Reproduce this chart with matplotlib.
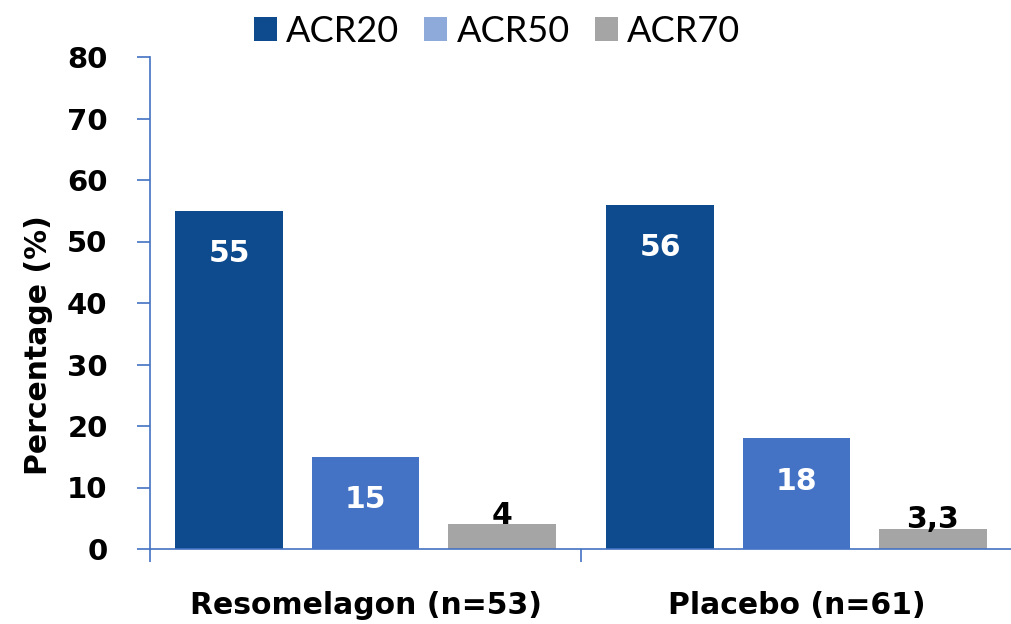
import matplotlib
matplotlib.use("Agg")
import matplotlib.pyplot as plt
from matplotlib.patches import Patch
import numpy as np

categories = ["Resomelagon (n=53)", "Placebo (n=61)"]
series = ["ACR20", "ACR50", "ACR70"]
acr20 = [55, 56]
acr50 = [15, 18]
acr70 = [4, 3.3]
value_labels = [["55", "56"], ["15", "18"], ["4", "3,3"]]
y_ticks = [0, 10, 20, 30, 40, 50, 60, 70, 80]

bar_colors = ["#0D4B8E", "#4472C4", "#A5A5A5"]
legend_colors = ["#0D4B8E", "#8EAADB", "#A5A5A5"]
label_colors = ["white", "white", "black"]
axis_color = "#4472C4"

legend_font = "Lato"
plt.rcParams['font.family'] = ["DejaVu Sans"]

fig = plt.figure(figsize=(10.12, 6.24), dpi=100)
ax = fig.add_axes([150/1012, 1 - 549/624, 862/1012, (549 - 57)/624])

x = np.arange(len(categories))
width = 0.25
offsets = [-0.316, 0.0, 0.316]
data = [acr20, acr50, acr70]
for i, vals in enumerate(data):
    bars = ax.bar(x + offsets[i], vals, width, color=bar_colors[i], zorder=2)
    for b, v, lab in zip(bars, vals, value_labels[i]):
        cx = b.get_x() + b.get_width() / 2
        if label_colors[i] == "white":
            ax.text(cx, v - 8.4, lab, ha="center", va="baseline", color="white",
                    fontsize=21.5, fontweight="bold")
        else:
            ax.text(cx, v + 0.05, lab, ha="center", va="baseline", color="black",
                    fontsize=21.5, fontweight="bold")

ax.set_xlim(-0.5, -0.5 + 864/432)
ax.set_ylim(0, 80)
ax.set_yticks(y_ticks)
ax.set_yticklabels([str(t) for t in y_ticks], fontsize=21, fontweight="bold")
ax.set_xticks([-0.5, 0.5, 1.5])
ax.set_xticklabels(["", "", ""])
ax.set_xticks(x, minor=True)
ax.set_xticklabels(categories, minor=True, fontsize=21.5, fontweight="bold")
ax.tick_params(axis="x", which="minor", length=0, pad=30.5)
ax.tick_params(axis="x", which="major", length=9.5, width=1.2, color=axis_color, direction="out")
ax.tick_params(axis="y", length=9.5, width=1.2, color=axis_color, direction="out", pad=21)

for s in ["top", "right"]:
    ax.spines[s].set_visible(False)
for s in ["left", "bottom"]:
    ax.spines[s].set_color(axis_color)
    ax.spines[s].set_linewidth(1.2)

ax.set_ylabel("Percentage (%)", fontsize=21.5, fontweight="bold")
ax.yaxis.set_label_coords((53 - 150)/862, (549 - 345)/492)

handles = [Patch(facecolor=c, edgecolor="none") for c in legend_colors]
fig.legend(handles, series, loc="center", bbox_to_anchor=(497/1012, 1 - 31/624),
           ncol=3, frameon=False, prop={"family": legend_font, "size": 26},
           handlelength=0.64, handleheight=0.66,
           handletextpad=0.25, columnspacing=0.7, borderpad=0, borderaxespad=0)

fig.savefig("out.png", dpi=100)
